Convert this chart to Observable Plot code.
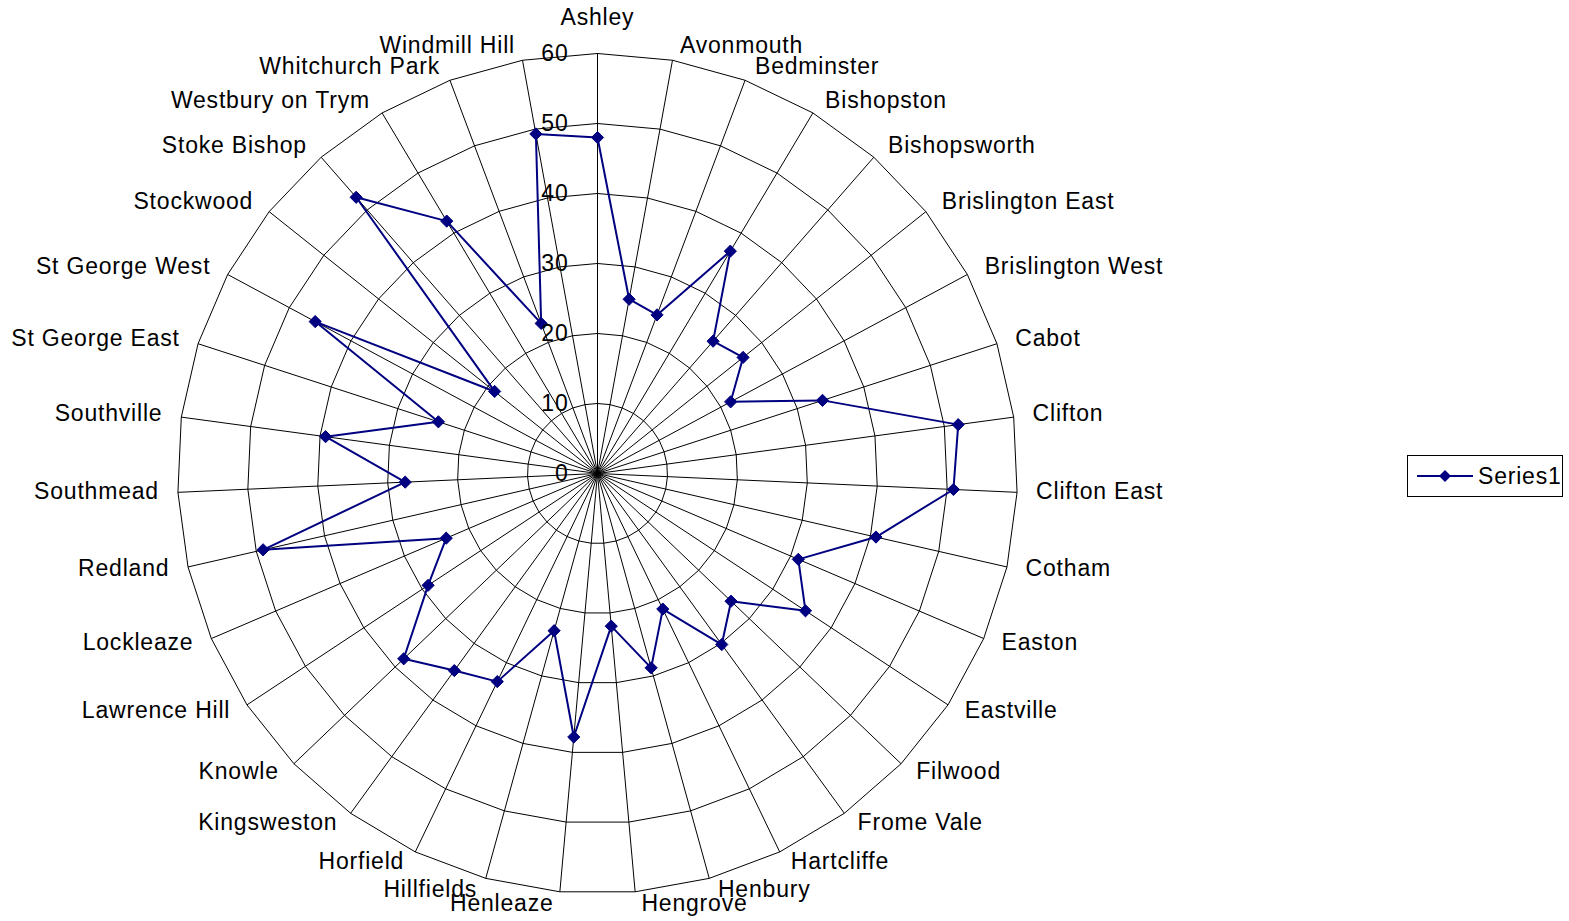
<!DOCTYPE html>
<html>
<head>
<meta charset="utf-8">
<script src="https://cdn.jsdelivr.net/npm/d3@7"></script>
<script src="https://cdn.jsdelivr.net/npm/@observablehq/plot@0.6"></script>
<style>
  html, body { margin: 0; padding: 0; background: #fff; }
  #wrap { position: relative; width: 1569px; height: 921px; overflow: hidden; }
  #legend {
    position: absolute; left: 1407px; top: 455px; width: 154px; height: 40px;
    border: 1px solid #000; background: #fff; box-sizing: content-box;
    font-family: "Liberation Sans", Arial, sans-serif; font-size: 23px; letter-spacing: 0.8px;
    display: flex; align-items: center;
  }
  #legend svg { margin-left: 9px; }
  #legend span { margin-left: 5px; }
</style>
</head>
<body>
<div id="wrap">
  <div id="chart"></div>
  <div id="legend"></div>
</div>
<script>
const categories = ["Ashley","Avonmouth","Bedminster","Bishopston","Bishopsworth","Brislington East","Brislington West","Cabot","Clifton","Clifton East","Cotham","Easton","Eastville","Filwood","Frome Vale","Hartcliffe","Henbury","Hengrove","Henleaze","Hillfields","Horfield","Kingsweston","Knowle","Lawrence Hill","Lockleaze","Redland","Southmead","Southville","St George East","St George West","Stockwood","Stoke Bishop","Westbury on Trym","Whitchurch Park","Windmill Hill"];
const series1 = [48, 25.3, 24.2, 37, 25.1, 26.6, 21.6, 33.8, 52, 50.9, 40.8, 31.2, 35.6, 26.4, 30.2, 21.5, 28.8, 21.9, 37.8, 23.3, 33, 34.8, 38.3, 29, 23.5, 49, 27.5, 39.2, 23.9, 45.8, 18.8, 52.4, 42, 22.9, 49.3];
const tickValues = [0, 10, 20, 30, 40, 50, 60];
const seriesName = "Series1";

const n = categories.length;
const rMax = d3.max(tickValues);
const W = 1569, H = 921;
const pxPerUnit = 7;           // pixels per data unit (isotropic)
const cx = 597, cy = 473;      // centre in pixels
const ang = i => 2 * Math.PI * i / n;
const px = p => p / pxPerUnit; // pixel offset -> data units

// rings
const rings = [];
for (const t of tickValues.filter(t => t > 0)) {
  for (let i = 0; i <= n; i++) {
    const a = ang(i % n);
    rings.push({t, x: t * Math.sin(a), y: t * Math.cos(a)});
  }
}
// spokes
const spokes = categories.map((c, i) => ({x2: rMax * Math.sin(ang(i)), y2: rMax * Math.cos(ang(i))}));
// series
const pts = series1.map((v, i) => ({cat: categories[i], v, x: v * Math.sin(ang(i)), y: v * Math.cos(ang(i))}));
const linePts = [...pts, pts[0]];
// labels
const labels = categories.map((c, i) => {
  const a = ang(i), s = Math.sin(a), co = Math.cos(a);
  let dxp = Math.sign(Math.round(s * 1e6)) * (5 + 14 * Math.abs(s));
  let dyp = -13 * co - 1.5;           // screen pixels, down positive
  if (i === 0) dyp = -36;             // top label lifted above the tick label
  const anchor = i === 0 ? "middle" : (s > 0 ? "start" : "end");
  return {c, anchor, x: rMax * s + px(dxp), y: rMax * co - px(dyp)};
});
const tickLabels = tickValues.map(t => ({t, x: -px(29), y: t}));

const font = "'Liberation Sans', Arial, sans-serif";
const textStyle = {fontSize: 23, fill: "#000", fontFamily: font};

const chart = Plot.plot({
  width: W, height: H,
  margin: 0,
  x: {domain: [-cx / pxPerUnit, (W - cx) / pxPerUnit], range: [0, W], axis: null},
  y: {domain: [-(H - cy) / pxPerUnit, cy / pxPerUnit], range: [H, 0], axis: null},
  style: {fontFamily: font, background: "#fff", letterSpacing: "0.8px"},
  marks: [
    Plot.line(rings, {x: "x", y: "y", z: "t", stroke: "#000", strokeWidth: 1}),
    Plot.link(spokes, {x1: 0, y1: 0, x2: "x2", y2: "y2", stroke: "#000", strokeWidth: 1}),
    Plot.line(linePts, {x: "x", y: "y", stroke: "#000080", strokeWidth: 2, curve: "linear"}),
    Plot.dot(pts, {x: "x", y: "y", symbol: "diamond2", r: 5.5, fill: "#000080", stroke: "#000080", strokeWidth: 1}),
    Plot.text(tickLabels, {x: "x", y: "y", text: d => String(d.t), textAnchor: "end", ...textStyle}),
    Plot.text(labels.filter(d => d.anchor === "middle"), {x: "x", y: "y", text: "c", textAnchor: "middle", ...textStyle}),
    Plot.text(labels.filter(d => d.anchor === "start"), {x: "x", y: "y", text: "c", textAnchor: "start", ...textStyle}),
    Plot.text(labels.filter(d => d.anchor === "end"), {x: "x", y: "y", text: "c", textAnchor: "end", ...textStyle})
  ]
});
document.getElementById("chart").appendChild(chart);

// legend
const lg = document.getElementById("legend");
lg.innerHTML = `<svg width="56" height="14" viewBox="0 0 56 14">
  <line x1="0" y1="7" x2="56" y2="7" stroke="#000080" stroke-width="2"/>
  <path d="M28 1 L34 7 L28 13 L22 7 Z" fill="#000080"/>
</svg><span>${seriesName}</span>`;
</script>
</body>
</html>
